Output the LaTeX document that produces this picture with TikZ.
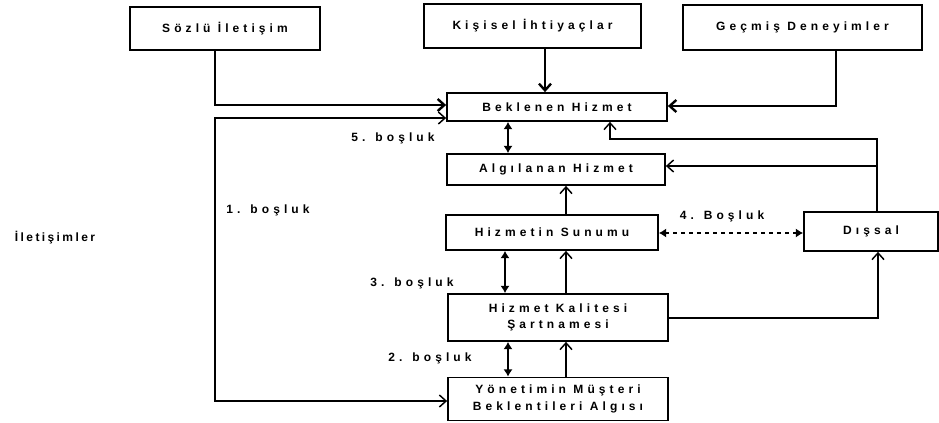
\documentclass[tikz,border=0pt]{standalone}
\usepackage{fontspec}
\setmainfont[LetterSpace=34]{Liberation Sans}
\usetikzlibrary{arrows.meta}
\tikzset{
  x=0.75pt, y=-0.75pt,
  >={Straight Barb[length=5pt,width=9pt]},
  box/.style={draw, line width=1.3pt, inner sep=0pt, align=center,
    font=\bfseries\fontsize{9}{12.5}\selectfont},
  lbl/.style={inner sep=0pt, font=\bfseries\fontsize{9}{10}\selectfont},
  conn/.style={line width=1.1pt},
  heavy/.style={line width=1.8pt},
  dbl/.style={{Latex[length=5.5pt,width=7pt]}-{Latex[length=5.5pt,width=7pt]}},
}
\begin{document}
\begin{tikzpicture}
\useasboundingbox (0,0) rectangle (939,422);
% boxes
\node[box, minimum width=190*0.75pt, minimum height=43*0.75pt] (soz) at (225,28.5) {Sözlü İletişim};
\node[box, minimum width=217*0.75pt, minimum height=44*0.75pt] (kis) at (532.5,26) {Kişisel İhtiyaçlar};
\node[box, minimum width=239*0.75pt, minimum height=45*0.75pt] (gec) at (802.5,27.5) {Geçmiş Deneyimler};
\node[box, minimum width=220*0.75pt, minimum height=28*0.75pt] (bek) at (557,107) {Beklenen Hizmet};
\node[box, minimum width=218*0.75pt, minimum height=31*0.75pt] (alg) at (556,169.5) {Algılanan Hizmet};
\node[box, minimum width=212*0.75pt, minimum height=35*0.75pt] (sun) at (552,232.5) {Hizmetin Sunumu};
\node[box, minimum width=134*0.75pt, minimum height=39*0.75pt] (dis) at (871,231.5) {Dışsal};
\node[box, minimum width=220*0.75pt, minimum height=47*0.75pt] (kal) at (558,317.5) {Hizmet Kalitesi\\Şartnamesi};
\node[box, minimum width=220*0.75pt, minimum height=43*0.75pt] (yon) at (558,399) {Yönetimin Müşteri\\Beklentileri Algısı};
% labels
\node[lbl] (l5) at (393,138) {5. boşluk};
\node[lbl] (l1) at (268,210) {1. boşluk};
\node[lbl] (l4) at (722,216) {4. Boşluk};
\node[lbl] (l3) at (412,283) {3. boşluk};
\node[lbl] (l2) at (430,358) {2. boşluk};
\node[lbl, font=\bfseries\fontsize{9}{10}\selectfont\addfontfeature{LetterSpace=20}] (il) at (55,238) {İletişimler};
% coordinates
\coordinate (ix) at (215,105);
\coordinate (kx) at (545,0);
\coordinate (gx) at (836,106);
\coordinate (it) at (215,118);
\coordinate (ib) at (215,401);
\coordinate (gapx) at (508,0);
\coordinate (gapy) at (505,0);
\coordinate (upx) at (566,0);
\coordinate (dx) at (877,139);
\coordinate (bx) at (610,139);
\coordinate (ay) at (877,166);
\coordinate (sy) at (0,233);
\coordinate (ky) at (878,318);
% connectors
\draw[heavy,->] (soz.south -| ix) |- (bek.west |- ix);
\draw[heavy,->] (kis.south -| kx) -- (bek.north -| kx);
\draw[heavy,->] (gec.south -| gx) |- (bek.east |- gx);
\draw[conn,<->] (bek.west |- it) -- (it) -- (ib) -- (yon.west |- ib);
\draw[conn,dbl] (bek.south -| gapx) -- (alg.north -| gapx);
\draw[conn,->] (sun.north -| upx) -- (alg.south -| upx);
\draw[conn,dashed,dbl] (sun.east |- sy) -- (dis.west |- sy);
\draw[conn,->] (dis.north -| dx) -- (dx) -- (bx) -- (bek.south -| bx);
\draw[conn,->] (ay) -- (alg.east |- ay);
\draw[conn,->] (kal.north -| upx) -- (sun.south -| upx);
\draw[conn,dbl] (sun.south -| gapy) -- (kal.north -| gapy);
\draw[conn,->] (kal.east |- ky) -| (dis.south -| ky);
\draw[conn,dbl] (kal.south -| gapx) -- (yon.north -| gapx);
\draw[conn,->] (yon.north -| upx) -- (kal.south -| upx);
\end{tikzpicture}
\end{document}
